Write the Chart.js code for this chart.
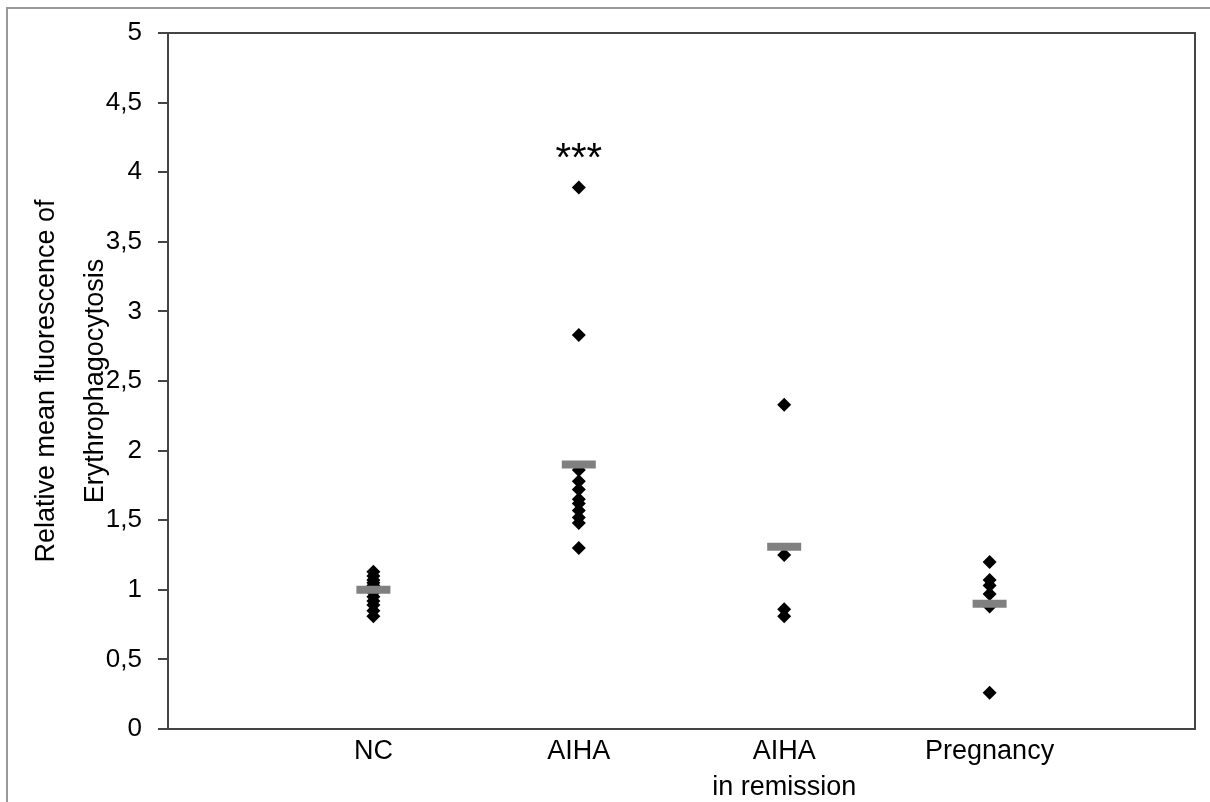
<!DOCTYPE html>
<html>
<head>
<meta charset="utf-8">
<script src="https://cdn.jsdelivr.net/npm/chart.js@4/dist/chart.umd.min.js"></script>
<style>
  html, body { margin: 0; padding: 0; background: #fff; overflow: hidden; }
  #wrap { position: relative; width: 1210px; height: 802px; overflow: hidden; }
  #myChart { display: block; }
</style>
</head>
<body>
<div id="wrap"><canvas id="myChart"></canvas></div>
<script>
  // groups on the x axis
  const categories = ['NC', 'AIHA', ['AIHA', 'in remission'], 'Pregnancy'];

  // individual values per group
  const ncValues = [1.13, 1.10, 1.07, 1.05, 1.03, 0.98, 0.95, 0.92, 0.89, 0.85, 0.81];
  const aihaValues = [3.89, 2.83, 1.86, 1.78, 1.72, 1.65, 1.62, 1.57, 1.52, 1.48, 1.30];
  const remissionValues = [2.33, 1.25, 0.86, 0.81];
  const pregnancyValues = [1.20, 1.07, 1.03, 0.97, 0.88, 0.26];

  // group means (grey bars)
  const means = [1.00, 1.90, 1.31, 0.90];

  const yTicks = [0, 0.5, 1, 1.5, 2, 2.5, 3, 3.5, 4, 4.5, 5];
  const yTitle = ['Relative mean fluorescence of', 'Erythrophagocytosis'];

  // significance mark above AIHA
  const sigGroup = 2;
  const sigText = '***';
  const sigValue = 4.06;

  const groups = [ncValues, aihaValues, remissionValues, pregnancyValues];
  const points = [];
  groups.forEach((vals, i) => {
    vals.forEach(v => points.push({ x: i + 1, y: v }));
  });
  const meanPoints = means.map((m, i) => ({ x: i + 1, y: m }));

  const fontFamily = '"Liberation Sans", Arial, sans-serif';

  const framePlugin = {
    id: 'frame',
    beforeDraw(chart) {
      const ctx = chart.ctx;
      ctx.save();
      ctx.strokeStyle = '#999';
      ctx.lineWidth = 2;
      ctx.beginPath();
      ctx.moveTo(7, chart.height);
      ctx.lineTo(7, 8);
      ctx.lineTo(chart.width, 8);
      ctx.stroke();
      ctx.restore();
    },
    afterDatasetsDraw(chart) {
      const { ctx, chartArea, scales } = chart;
      ctx.save();
      ctx.strokeStyle = '#444';
      ctx.lineWidth = 2;
      ctx.strokeRect(chartArea.left, chartArea.top, chartArea.right - chartArea.left, chartArea.bottom - chartArea.top);
      ctx.fillStyle = '#000';
      ctx.font = '40px ' + fontFamily;
      ctx.textAlign = 'center';
      ctx.textBaseline = 'alphabetic';
      ctx.fillText(sigText, scales.x.getPixelForValue(sigGroup), scales.y.getPixelForValue(sigValue) + 7);
      ctx.restore();
    }
  };

  const ctx = document.getElementById('myChart');
  const myChart = new Chart(ctx, {
    type: 'scatter',
    data: {
      datasets: [{
        data: meanPoints,
        order: 0,
        pointStyle: 'line',
        radius: 17,
        borderWidth: 8,
        borderColor: '#808080',
        backgroundColor: '#808080'
      }, {
        data: points,
        order: 1,
        pointStyle: 'rectRot',
        radius: 7,
        borderWidth: 0,
        backgroundColor: '#000',
        borderColor: '#000'
      }]
    },
    options: {
      responsive: true,
      maintainAspectRatio: false,
      animation: false,
      layout: {
        autoPadding: false, // the wide mean markers would otherwise push the plot edge in
        padding: { top: 33, right: 15, left: 0, bottom: 0 }
      },
      plugins: {
        legend: { display: false },
        tooltip: { enabled: false }
      },
      scales: {
        x: {
          type: 'linear',
          min: 0,
          max: 5,
          afterBuildTicks: (scale) => {
            scale.ticks = categories.map((c, i) => ({ value: i + 1 }));
          },
          afterFit: (scale) => { scale.height = 73; },
          grid: { display: false },
          border: { display: false },
          ticks: {
            autoSkip: false,
            maxRotation: 0,
            padding: -3,
            color: '#000',
            font: { family: fontFamily, size: 27, lineHeight: 1.32 },
            callback: (v) => categories[v - 1]
          }
        },
        y: {
          min: 0,
          max: 5,
          afterBuildTicks: (scale) => {
            scale.ticks = yTicks.map(v => ({ value: v }));
          },
          afterFit: (scale) => { scale.width = 168; },
          grid: {
            drawOnChartArea: false,
            tickLength: 10,
            color: '#444',
            lineWidth: 2
          },
          border: { display: false },
          ticks: {
            padding: 16,
            color: '#000',
            font: { family: fontFamily, size: 26 },
            callback: (v) => String(v).replace('.', ',')
          },
          title: {
            display: true,
            text: yTitle,
            color: '#000',
            padding: { top: 23, bottom: 0 },
            font: { family: fontFamily, size: 27, lineHeight: 1.78 }
          }
        }
      }
    },
    plugins: [framePlugin]
  });
</script>
</body>
</html>
